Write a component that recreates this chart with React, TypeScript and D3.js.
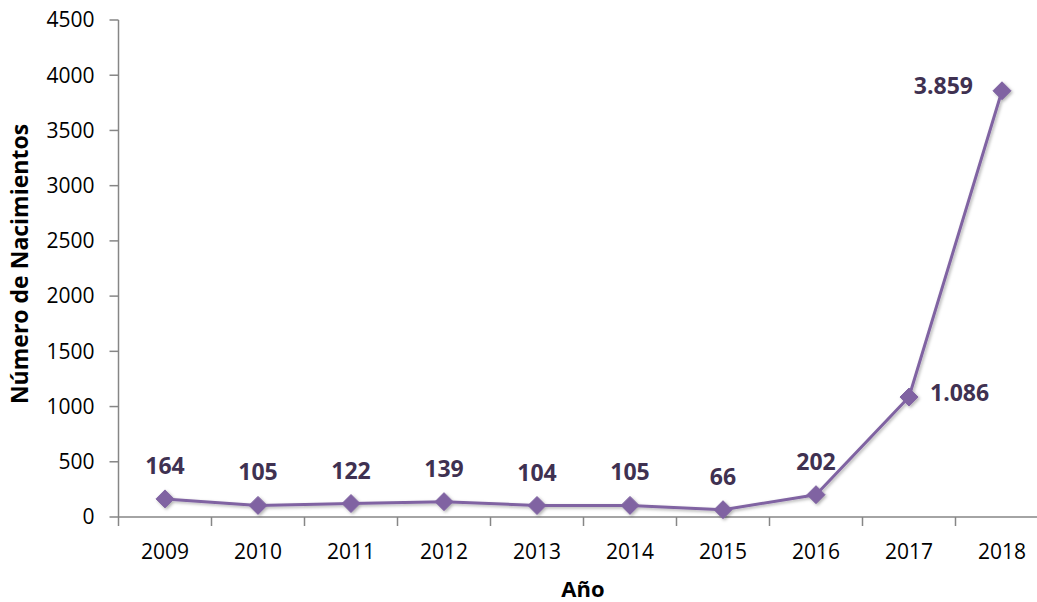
import React from "react";
import * as d3 from "d3";

const years = ["2009", "2010", "2011", "2012", "2013", "2014", "2015", "2016", "2017", "2018"];
const births = [164, 105, 122, 139, 104, 105, 66, 202, 1086, 3859];
const labelPos = ["top", "top", "top", "top", "top", "top", "top", "top", "right", "left"];
const yTicks = [0, 500, 1000, 1500, 2000, 2500, 3000, 3500, 4000, 4500];

const W = 1037;
const H = 602;
const left = 118.5;
const bandW = 93;
const top = 20;
const bottom = 517;

export default function App() {
  const x = d3
    .scaleBand<string>()
    .domain(years)
    .range([left, left + bandW * years.length])
    .paddingInner(0)
    .paddingOuter(0);
  const y = d3.scaleLinear().domain([0, 4500]).range([bottom, top]);
  const loc = d3.formatLocale({ decimal: ",", thousands: ".", grouping: [3], currency: ["", "€"] });
  const fmt = loc.format(",d");
  const cx = (d: string) => (x(d) as number) + bandW / 2;
  const line = d3
    .line<number>()
    .x((_, i) => cx(years[i]))
    .y((d) => y(d));
  const font = "'Open Sans', 'Noto Sans', sans-serif";
  const purple = "#8064a2";
  const labelColor = "#3f3151";
  const ms = 9;
  return (
    <svg width={W} height={H} style={{ position: "absolute", left: 0, top: 0, background: "#fff" }} fontFamily={font}>
      <defs>
        <filter id="sh" x="-50%" y="-50%" width="200%" height="200%">
          <feDropShadow dx="1.5" dy="1.5" stdDeviation="1.5" floodColor="#000" floodOpacity="0.3" />
        </filter>
      </defs>
      {/* y axis */}
      <line x1={left} x2={left} y1={top} y2={bottom} stroke="#868686" strokeWidth={1.5} />
      {yTicks.map((t) => (
        <g key={t}>
          <line x1={left - 9} x2={left} y1={y(t)} y2={y(t)} stroke="#868686" strokeWidth={1.5} />
          <text x={left - 24} y={y(t)} dy="0.35em" textAnchor="end" fontSize={21} fill="#000">
            {t}
          </text>
        </g>
      ))}
      {/* x axis */}
      <line x1={left} x2={W} y1={bottom} y2={bottom} stroke="#868686" strokeWidth={1.5} />
      {years.map((yr, i) => (
        <line key={"t" + yr} x1={left + bandW * i} x2={left + bandW * i} y1={bottom} y2={bottom + 9} stroke="#868686" strokeWidth={1.5} />
      ))}
      {years.map((yr) => (
        <text key={"l" + yr} x={cx(yr)} y={552} dy="0.35em" textAnchor="middle" fontSize={21} fill="#000">
          {yr}
        </text>
      ))}
      <text x={583} y={597} textAnchor="middle" fontSize={22} fontWeight="bold" fill="#000">
        Año
      </text>
      <text
        transform={`translate(20,${264}) rotate(-90)`}
        dy="0.35em"
        textAnchor="middle"
        fontSize={23}
        fontWeight="bold"
        fill="#000"
      >
        Número de Nacimientos
      </text>
      <g filter="url(#sh)">
        <path d={line(births) || ""} fill="none" stroke={purple} strokeWidth={3} strokeLinejoin="round" />
        {births.map((v, i) => {
          const px = cx(years[i]);
          const py = y(v);
          return (
            <path
              key={"m" + i}
              d={`M${px},${py - ms}L${px + ms},${py}L${px},${py + ms}L${px - ms},${py}Z`}
              fill={purple}
              stroke={purple}
              strokeWidth={1}
              strokeLinejoin="round"
            />
          );
        })}
      </g>
      {births.map((v, i) => {
        const px = cx(years[i]);
        const py = y(v);
        const pos = labelPos[i];
        let tx = px;
        let ty = py - 33;
        let anchor = "middle";
        if (pos === "right") {
          tx = px + 21;
          ty = py - 4;
          anchor = "start";
        } else if (pos === "left") {
          tx = px - 29;
          ty = py - 5;
          anchor = "end";
        }
        return (
          <text key={"v" + i} x={tx} y={ty} dy="0.35em" textAnchor={anchor} fontSize={23} fontWeight="bold" fill={labelColor}>
            {fmt(v)}
          </text>
        );
      })}
    </svg>
  );
}
